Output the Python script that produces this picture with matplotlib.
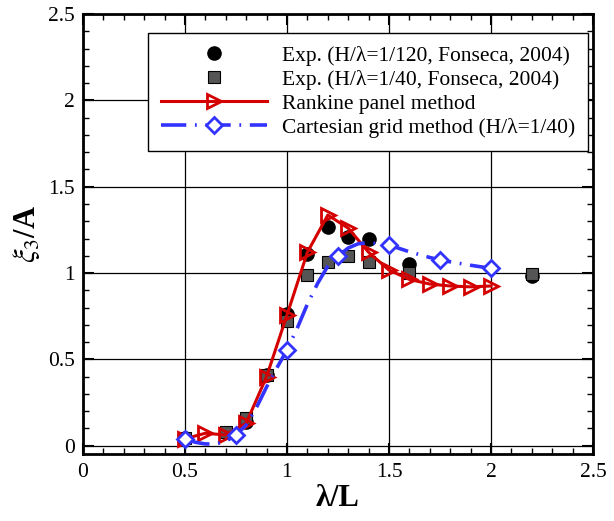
import matplotlib
matplotlib.use("Agg")
import matplotlib.pyplot as plt
from matplotlib.ticker import MultipleLocator, FormatStrFormatter

plt.rcParams["font.family"] = ["Liberation Serif", "DejaVu Serif"]
plt.rcParams["mathtext.fontset"] = "stix"

# experiment, H/lambda = 1/120
exp120_x = [0.5, 0.8, 0.9, 1.0, 1.1, 1.2, 1.3, 1.4, 1.6, 2.2]
exp120_y = [0.045, 0.135, 0.41, 0.76, 1.11, 1.268, 1.207, 1.20, 1.05, 0.983]

# experiment, H/lambda = 1/40
exp40_x = [0.5, 0.7, 0.8, 0.9, 1.0, 1.1, 1.2, 1.3, 1.4, 1.6, 2.2]
exp40_y = [0.045, 0.081, 0.16, 0.41, 0.724, 0.988, 1.062, 1.098, 1.065, 0.998, 0.992]

# Rankine panel method
rankine_x = [0.5, 0.6, 0.7, 0.8, 0.9, 1.0, 1.1, 1.2, 1.3, 1.4, 1.5, 1.6, 1.7, 1.8, 1.9, 2.0]
rankine_y = [0.04, 0.072, 0.062, 0.13, 0.40, 0.757, 1.12, 1.336, 1.26, 1.12, 1.017, 0.963, 0.936, 0.925, 0.92, 0.925]

# Cartesian grid method, curve
cart_line_x = [0.5, 0.55, 0.6, 0.65, 0.7, 0.75, 0.8, 0.85, 0.9, 0.95, 1.0, 1.05, 1.1, 1.15,
               1.2, 1.25, 1.3, 1.35, 1.4, 1.45, 1.5, 1.6, 1.7, 1.75, 1.8, 1.9, 2.0]
cart_line_y = [0.04, 0.02, 0.01, 0.01, 0.025, 0.062, 0.12, 0.22, 0.34, 0.45, 0.554, 0.68, 0.82, 0.94,
               1.04, 1.098, 1.145, 1.17, 1.175, 1.17, 1.162, 1.123, 1.09, 1.075, 1.065, 1.045, 1.027]
cart_mark_x = [0.5, 0.75, 1.0, 1.25, 1.5, 1.75, 2.0]
cart_mark_y = [0.04, 0.062, 0.554, 1.098, 1.162, 1.075, 1.027]

red = "#d40000"
blue = "#3333ff"
dash = (0, (7, 2.4, 0.5, 2.4))

fig = plt.figure(figsize=(6.14, 5.21), dpi=100)
ax = fig.add_axes([0.135, 0.128, 0.831, 0.845])

ax.plot(exp120_x, exp120_y, "o", color="black", ms=9.5, zorder=3,
        label="Exp. (H/\u03bb=1/120, Fonseca, 2004)")
ax.plot(exp40_x, exp40_y, "s", mfc="#555555", mec="black", mew=0.8, ms=8, zorder=4,
        label="Exp. (H/\u03bb=1/40, Fonseca, 2004)")
ax.plot(rankine_x, rankine_y, "->", color=red, lw=2.2, ms=10, mfc="none", mew=2,
        zorder=5, label="Rankine panel method")

ax.plot(cart_line_x, cart_line_y, color=blue, lw=2.6, ls=dash, zorder=6)
ax.plot(cart_mark_x, cart_mark_y, "D", color=blue, ms=8.5, mfc="white", mew=2, zorder=7)
# legend proxy for the Cartesian curve
ax.plot([], [], color=blue, lw=2.6, ls=dash, marker="D", ms=8.5,
        mfc="white", mew=2, label="Cartesian grid method (H/\u03bb=1/40)")

ax.set_xlim(0, 2.5)
ax.set_ylim(-0.05, 2.5)
ax.xaxis.set_major_locator(MultipleLocator(0.5))
ax.xaxis.set_minor_locator(MultipleLocator(0.1))
ax.yaxis.set_major_locator(MultipleLocator(0.5))
ax.yaxis.set_minor_locator(MultipleLocator(0.1))
ax.xaxis.set_major_formatter(FormatStrFormatter("%g"))
ax.yaxis.set_major_formatter(FormatStrFormatter("%g"))
ax.tick_params(which="both", direction="in", top=True, right=True, labelsize=15.5)
ax.tick_params(which="major", length=8, width=1.5, pad=6)
ax.tick_params(which="minor", length=4, width=1)
for s in ax.spines.values():
    s.set_linewidth(2)
ax.grid(True, which="major", color="black", lw=0.9, zorder=0)
ax.set_axisbelow(True)

ax.set_xlabel("\u03bb/L", fontsize=22, fontweight="bold", labelpad=2)
ax.set_ylabel(r"$\xi_3$/A", fontsize=22, fontweight="bold", labelpad=4)

leg = ax.legend(loc="upper right", bbox_to_anchor=(0.99, 0.957), fontsize=15.5,
                handlelength=4.9, frameon=True, fancybox=False, borderpad=0.6,
                labelspacing=0.18, handletextpad=0.7, borderaxespad=0)
leg.get_frame().set_edgecolor("black")
leg.get_frame().set_linewidth(1)
leg.get_frame().set_alpha(1)

fig.savefig("out.png", dpi=100)
